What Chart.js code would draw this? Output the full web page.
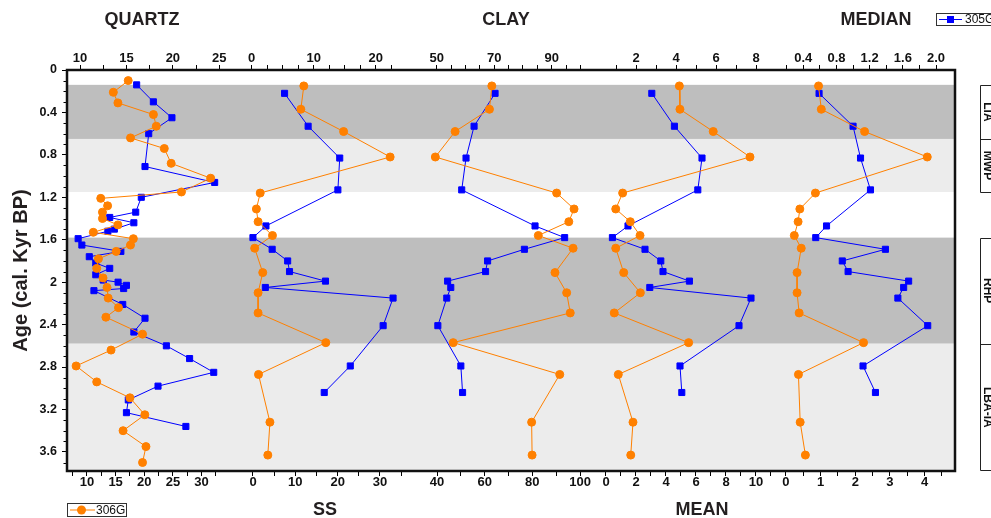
<!DOCTYPE html>
<html><head><meta charset="utf-8">
<script src="https://cdn.jsdelivr.net/npm/chart.js@4.4.1/dist/chart.umd.min.js"></script>
<style>html,body{margin:0;padding:0;background:#fff;}canvas{display:block;}</style>
</head><body>
<canvas id="c" width="991" height="518"></canvas>
<script>
// ---------------- DATA ----------------
const quartzAges306 = [0.10,0.21,0.31,0.42,0.53,0.64,0.74,0.88,1.02,1.15,1.21,1.28,1.34,1.40,1.46,1.53,1.59,1.65,1.71,1.78,1.87,1.96,2.05,2.15,2.24,2.33,2.49,2.64,2.79,2.94,3.09,3.25,3.40,3.55,3.70];
const quartz306 = [17.2,14.6,15.4,21.6,22.1,17.6,23.5,24.7,31.6,26.5,12.4,13.6,12.7,12.7,15.4,11.1,18.1,17.6,15.1,12.0,11.7,12.8,13.5,13.7,15.5,13.3,19.7,14.2,8.1,11.7,17.5,20.1,16.3,20.3,19.7];
const quartzAges305 = [0.14,0.30,0.45,0.60,0.91,1.06,1.20,1.34,1.39,1.44,1.50,1.52,1.59,1.65,1.71,1.76,1.82,1.87,1.93,1.98,2.00,2.03,2.06,2.08,2.21,2.34,2.47,2.60,2.72,2.85,2.98,3.11,3.23,3.36];
const quartz305 = [16.1,17.9,19.9,17.4,17.0,24.5,16.6,16.0,13.2,15.8,13.7,13.0,9.8,10.2,14.4,11.0,11.7,13.2,11.7,12.5,14.1,15.0,14.7,11.5,14.6,17.0,15.8,19.3,21.8,24.4,18.4,15.2,15.0,21.4];

const gsAges306 = [0.15,0.37,0.58,0.82,1.16,1.31,1.43,1.56,1.68,1.91,2.10,2.29,2.57,2.87,3.32,3.63];
const ss306 = [12.0,11.3,21.4,32.4,1.7,0.8,1.2,4.6,0.4,2.3,1.2,1.2,17.2,1.3,4.0,3.5];
const clay306 = [63.0,62.0,47.6,39.3,90.2,97.5,95.3,82.5,97.1,89.5,94.4,95.9,46.8,91.5,79.7,79.9];
const mean306 = [4.89,4.93,7.15,9.60,1.11,0.65,1.62,2.27,0.65,1.18,2.29,0.55,5.51,0.82,1.80,1.65];
const median306 = [0.94,1.02,2.27,4.08,0.85,0.40,0.35,0.24,0.44,0.32,0.32,0.38,2.24,0.36,0.41,0.56];

const gsAges305 = [0.22,0.53,0.83,1.13,1.47,1.58,1.69,1.80,1.90,1.99,2.05,2.15,2.41,2.79,3.04];
const ss305 = [5.3,9.1,14.2,13.9,2.3,0.2,3.3,5.8,6.1,11.9,2.2,22.8,21.2,15.9,11.7];
const clay305 = [70.3,63.0,60.2,58.7,84.2,94.5,80.5,67.7,67.0,53.8,54.9,53.5,50.4,58.4,59.0];
const mean305 = [2.79,3.92,5.30,5.09,1.60,0.82,2.45,3.24,3.35,4.67,2.69,7.75,7.15,4.20,4.29];
const median305 = [0.59,1.00,1.09,1.21,0.68,0.55,1.39,0.87,0.94,1.67,1.61,1.54,1.90,1.12,1.27];

const periodNames = ['LIA','MWP','RHP','LBA-IA'];
const periodStart = [0.14,0.65,1.58,2.58];
const periodEnd = [0.65,1.15,2.58,3.78];
const periodShade = ['dark','light','dark','light'];

// tick values and labels
const ageTicks = [0,0.4,0.8,1.2,1.6,2,2.4,2.8,3.2,3.6];
const ageMinorTicks = [0.1,0.2,0.3,0.5,0.6,0.7,0.9,1.0,1.1,1.3,1.4,1.5,1.7,1.8,1.9,2.1,2.2,2.3,2.5,2.6,2.7,2.9,3.0,3.1,3.3,3.4,3.5,3.7];
const quartzTopTicks = [10,12.5,15,17.5,20,22.5,25];
const quartzTopLabels = [10,15,20,25];
const quartzBotTicks = [7.5,10,12.5,15,17.5,20,22.5,25,27.5,30,32.5];
const quartzBotLabels = [10,15,20,25,30];
const ssTopTicks = [0,2.5,5,7.5,10,12.5,15,17.5,20,22.5];
const ssTopLabels = [0,10,20];
const ssBotTicks = [0,5,10,15,20,25,30,35];
const ssBotLabels = [0,10,20,30];
const clayTopTicks = [50,55,60,65,70,75,80,85,90,95,100];
const clayTopLabels = [50,70,90];
const clayBotTicks = [40,50,60,70,80,90,100];
const clayBotLabels = [40,60,80,100];
const meanTopTicks = [1,2,3,4,5,6,7,8];
const meanTopLabels = [2,4,6,8];
const meanBotTicks = [0,1,2,3,4,5,6,7,8,9,10,11];
const meanBotLabels = [0,2,4,6,8,10];
const medianTopTicks = [0.2,0.4,0.6,0.8,1.0,1.2,1.4,1.6,1.8,2.0];
const medianTopLabels = [0.4,0.8,1.2,1.6,2.0];
const medianBotTicks = [0,0.5,1,1.5,2,2.5,3,3.5,4,4.5];
const medianBotLabels = [0,1,2,3,4];

// ---------------- CHART ----------------
const BLUE = '#0000ff', ORANGE = '#ff8000';
const FONT = 'Liberation Sans, Arial, Helvetica, sans-serif';

function pts(ages, vals){ return ages.map((a,i)=>({x:vals[i], y:a})); }

function ds306(label, ages, vals, axis){
  return {label, data: pts(ages, vals), xAxisID: axis, yAxisID:'y', showLine:true,
    borderColor: ORANGE, backgroundColor: ORANGE, borderWidth:1, pointStyle:'circle',
    pointRadius:4, pointBorderWidth:1, clip:false};
}
function ds305(label, ages, vals, axis){
  return {label, data: pts(ages, vals), xAxisID: axis, yAxisID:'y', showLine:true,
    borderColor: BLUE, backgroundColor: BLUE, borderWidth:1, pointStyle:'rect',
    pointRadius:4.3, pointBorderWidth:1, clip:false};
}

function xAxis(pos, weight, min, max, ticks, labels, dec){
  return {
    type:'linear', position:pos, stack:pos, stackWeight:1, weight, min, max, bounds:'data',
    grid:{display:true, drawOnChartArea:false, drawTicks:true, tickLength:5, tickWidth:1, tickColor:'#000'},
    border:{display:false},
    ticks:{autoSkip:false, maxRotation:0, minRotation:0, padding:-1, color:'#111',
      font:{family:FONT, size:13, weight:'bold'},
      callback:(v)=> labels.some(l=>Math.abs(l-v)<1e-9) ? (dec ? v.toFixed(dec) : String(v)) : ''},
    afterBuildTicks:(s)=>{ s.ticks = ticks.map(v=>({value:v})); },
    afterFit:(s)=>{ s.height = (pos==='top') ? 70 : 47; }
  };
}

const decorPlugin = {
  id:'decor',
  beforeDatasetsDraw(chart){
    const {ctx, chartArea:a, scales:{y}} = chart;
    ctx.save();
    for (let i=0;i<periodNames.length;i++){
      const y0 = y.getPixelForValue(periodStart[i]), y1 = y.getPixelForValue(periodEnd[i]);
      ctx.fillStyle = periodShade[i]==='dark' ? '#bebebe' : '#ececec';
      ctx.fillRect(a.left, y0, a.right-a.left, Math.min(y1, a.bottom)-y0);
    }
    ctx.restore();
  },
  afterDraw(chart){
    const {ctx, chartArea:a, scales:{y}} = chart;
    ctx.save();
    // minor age ticks
    ctx.strokeStyle = '#000'; ctx.lineWidth = 1;
    ctx.beginPath();
    ageMinorTicks.forEach(v=>{ const py = Math.round(y.getPixelForValue(v))+0.5; ctx.moveTo(a.left-3.5, py); ctx.lineTo(a.left, py); });
    ctx.stroke();
    // frame
    ctx.lineWidth = 2.5; ctx.strokeStyle = '#111';
    ctx.strokeRect(a.left, a.top, a.right-a.left, a.bottom-a.top);
    // panel titles
    ctx.fillStyle = '#231f20';
    ctx.font = 'bold 18px ' + FONT;
    ctx.textAlign = 'center'; ctx.textBaseline = 'middle';
    ctx.fillText('QUARTZ', 142, 20);
    ctx.fillText('CLAY', 506, 20);
    ctx.fillText('MEDIAN', 876, 20);
    ctx.fillText('SS', 325, 510);
    ctx.fillText('MEAN', 702, 510);
    // period boxes on the right
    ctx.strokeStyle = '#222'; ctx.lineWidth = 1;
    const bx = 980.5;
    const groups = [[0,1],[2,3]];
    groups.forEach(g=>{
      const t = Math.round(y.getPixelForValue(periodStart[g[0]]))+0.5;
      const b = Math.round(Math.min(y.getPixelForValue(periodEnd[g[1]]), a.bottom-1))+0.5;
      const m = Math.round(y.getPixelForValue(periodEnd[g[0]]))+0.5;
      ctx.beginPath();
      ctx.moveTo(1000, t); ctx.lineTo(bx, t); ctx.lineTo(bx, b); ctx.lineTo(1000, b);
      ctx.moveTo(bx, m); ctx.lineTo(1000, m);
      ctx.stroke();
    });
    ctx.font = 'bold 12px ' + FONT; ctx.fillStyle = '#111';
    for (let i=0;i<periodNames.length;i++){
      const cy = (y.getPixelForValue(periodStart[i]) + Math.min(y.getPixelForValue(periodEnd[i]), a.bottom))/2;
      ctx.save(); ctx.translate(987, cy); ctx.rotate(Math.PI/2);
      ctx.textAlign='center'; ctx.textBaseline='middle';
      ctx.fillText(periodNames[i], 0, 0); ctx.restore();
    }
    // legends
    ctx.lineWidth = 1; ctx.strokeStyle = '#333';
    ctx.strokeRect(936.5, 13.5, 70, 12);
    ctx.strokeStyle = BLUE; ctx.beginPath(); ctx.moveTo(939, 19.5); ctx.lineTo(962, 19.5); ctx.stroke();
    ctx.fillStyle = BLUE; ctx.fillRect(947, 16, 7, 7);
    ctx.fillStyle = '#111'; ctx.font = '12px ' + FONT; ctx.textAlign='left'; ctx.textBaseline='middle';
    ctx.fillText('305G', 965, 20);
    ctx.strokeStyle = '#333'; ctx.strokeRect(67.5, 503.5, 59, 13);
    ctx.strokeStyle = ORANGE; ctx.beginPath(); ctx.moveTo(70, 510); ctx.lineTo(95, 510); ctx.stroke();
    ctx.fillStyle = ORANGE; ctx.beginPath(); ctx.arc(81.5, 510, 4.5, 0, Math.PI*2); ctx.fill();
    ctx.fillStyle = '#111'; ctx.fillText('306G', 96, 510.5);
    ctx.restore();
  }
};

new Chart(document.getElementById('c'), {
  type:'scatter',
  data:{ datasets:[
    ds306('306G', quartzAges306, quartz306, 'qB'),
    ds306('306G', gsAges306, ss306, 'sB'),
    ds306('306G', gsAges306, clay306, 'cB'),
    ds306('306G', gsAges306, mean306, 'mB'),
    ds306('306G', gsAges306, median306, 'dB'),
    ds305('305G', quartzAges305, quartz305, 'qT'),
    ds305('305G', gsAges305, ss305, 'sT'),
    ds305('305G', gsAges305, clay305, 'cT'),
    ds305('305G', gsAges305, mean305, 'mT'),
    ds305('305G', gsAges305, median305, 'dT')
  ]},
  options:{
    responsive:false, animation:false, devicePixelRatio:1, events:[],
    layout:{padding:{left:0, right:36, top:0, bottom:0}},
    plugins:{legend:{display:false}, tooltip:{enabled:false}, title:{display:false}},
    scales:{
      y:{type:'linear', position:'left', reverse:true, min:0, max:3.78, bounds:'data',
        grid:{display:true, drawOnChartArea:false, drawTicks:true, tickLength:5, tickColor:'#000'},
        border:{display:false},
        ticks:{autoSkip:false, padding:5, color:'#111', font:{family:FONT, size:12.5, weight:'bold'},
          callback:(v)=>String(+(+v).toFixed(1))},
        afterBuildTicks:(s)=>{ s.ticks = ageTicks.map(v=>({value:v})); },
        title:{display:true, text:'Age (cal. Kyr BP)', color:'#231f20', font:{family:FONT, size:20, weight:'bold'}, padding:{top:9, bottom:0}},
        afterFit:(s)=>{ s.width = 67; }
      },
      qT: xAxis('top', 5, 8.600, 27.724, quartzTopTicks, quartzTopLabels, 0),
      sT: xAxis('top', 4, -1.145, 27.5, ssTopTicks, ssTopLabels, 0),
      cT: xAxis('top', 3, 44.957, 106.73, clayTopTicks, clayTopLabels, 0),
      mT: xAxis('top', 2, 0.19, 9.07, meanTopTicks, meanTopLabels, 0),
      dT: xAxis('top', 1, 0.0877, 2.229, medianTopTicks, medianTopLabels, 1),
      qB: xAxis('bottom', 1, 6.507, 37.528, quartzBotTicks, quartzBotLabels, 0),
      sB: xAxis('bottom', 2, -1.984, 39.97, ssBotTicks, ssBotLabels, 0),
      cB: xAxis('bottom', 3, 33.79, 108.3, clayBotTicks, clayBotLabels, 0),
      mB: xAxis('bottom', 4, -0.413, 11.427, meanBotTicks, meanBotLabels, 0),
      dB: xAxis('bottom', 5, -0.248, 4.881, medianBotTicks, medianBotLabels, 0)
    }
  },
  plugins:[decorPlugin]
});
</script>
</body></html>
